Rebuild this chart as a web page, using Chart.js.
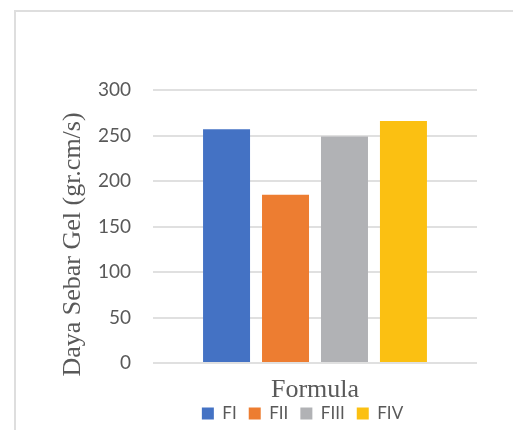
<!DOCTYPE html>
<html>
<head>
<meta charset="utf-8">
<script src="https://cdn.jsdelivr.net/npm/chart.js@4/dist/chart.umd.min.js"></script>
<style>
  html, body { margin: 0; padding: 0; background: #fff; overflow: hidden; }
  #wrap { position: relative; width: 513px; height: 430px; }
  #frame {
    position: absolute; left: 14px; top: 10px; width: 600px; height: 600px;
    border-top: 2px solid #dedede; border-left: 2px solid #dedede;
  }
  #chartJSContainer { position: absolute; left: 0; top: 0; }
</style>
</head>
<body>
<div id="wrap">
  <div id="frame"></div>
  <canvas id="chartJSContainer" width="513" height="430"></canvas>
</div>
<script>
// daya sebar per formula
var formulas = ["FI", "FII", "FIII", "FIV"];
var dayaSebar = [257, 185, 249, 266];
var barColors = ["#4472c4", "#ed7d31", "#b1b2b5", "#fbc012"];
var yTicks = [0, 50, 100, 150, 200, 250, 300];

var yTitle = "Daya Sebar Gel (gr.cm/s)";
var xTitle = "Formula";

// y title is drawn by hand so it can sit a bit below the middle of the axis,
// and the legend is nudged left a little
const extrasPlugin = {
  id: "extras",
  afterLayout: (chart) => {
    if (chart.legend) chart.legend.left -= 25;
  },
  afterDraw: (chart) => {
    const ctx = chart.ctx;
    const area = chart.chartArea;
    ctx.save();
    ctx.translate(area.left - 80, (area.top + area.bottom) / 2 + 18);
    ctx.rotate(-Math.PI / 2);
    ctx.font = '26px "Liberation Serif"';
    ctx.fillStyle = "#595959";
    ctx.textAlign = "center";
    ctx.textBaseline = "middle";
    ctx.fillText(yTitle, 0, 0);
    ctx.restore();
  },
};

var datasets = formulas.map((f, i) => ({
  label: f,
  data: [dayaSebar[i]],
  backgroundColor: barColors[i],
  borderWidth: 0,
  categoryPercentage: 0.728,
  barPercentage: 0.797,
}));

var options = {
  type: "bar",
  data: {
    labels: [""],
    datasets: datasets,
  },
  options: {
    responsive: false,
    animation: false,
    layout: { padding: { left: 0, right: 36, top: 90, bottom: -2 } },
    scales: {
      x: {
        grid: { display: false, drawTicks: false },
        border: { display: false },
        ticks: { display: false },
        title: {
          display: true,
          text: xTitle,
          color: "#595959",
          font: { family: "Liberation Serif", size: 26, lineHeight: 1 },
          padding: { top: 14, bottom: -10 },
        },
      },
      y: {
        min: 0,
        max: yTicks[yTicks.length - 1],
        afterBuildTicks: (scale) => {
          scale.ticks = yTicks.map((v) => ({ value: v }));
        },
        afterFit: (scale) => {
          scale.width = 153;
        },
        grid: { color: "#e0e0e0", lineWidth: 2, drawTicks: false },
        border: { display: false },
        ticks: {
          padding: 22,
          color: "#595959",
          font: { family: "Lato", size: 19 },
        },
      },
    },
    plugins: {
      legend: {
        position: "bottom",
        fullSize: false,
        labels: {
          boxWidth: 12,
          boxHeight: 12,
          padding: 12,
          color: "#595959",
          font: { family: "Lato", size: 17 },
        },
      },
      tooltip: { enabled: false },
    },
  },
  plugins: [extrasPlugin],
};

var ctx = document.getElementById("chartJSContainer").getContext("2d");
new Chart(ctx, options);
</script>
</body>
</html>
